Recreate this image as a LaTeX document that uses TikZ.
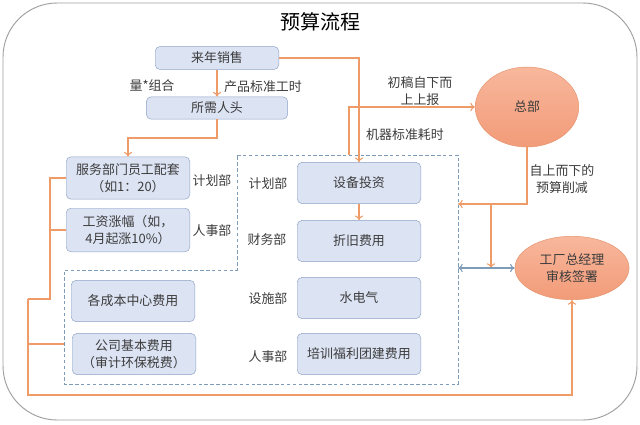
\documentclass[tikz,border=0pt]{standalone}
\usepackage{fontspec}
\setmainfont{Noto Sans CJK SC}
\usetikzlibrary{shapes.geometric,arrows.meta}

\definecolor{boxfill}{HTML}{DCE3F3}
\definecolor{boxline}{HTML}{8FA2C6}
\definecolor{flow}{HTML}{EE9B68}
\definecolor{frameblue}{HTML}{7E9CB8}
\definecolor{ovaltop}{HTML}{F8B79C}
\definecolor{ovalbot}{HTML}{F29B78}
\definecolor{ovalline}{HTML}{E4946E}
\definecolor{txt}{HTML}{3C3C3C}

\tikzset{
  box/.style={draw=boxline, fill=boxfill, rounded corners=4pt, minimum width=105pt, minimum height=35pt, align=center, text=txt, font=\fontsize{11}{14}\selectfont},
  oval/.style={ellipse, draw=ovalline, top color=ovaltop, bottom color=ovalbot, align=center, text=txt, font=\fontsize{11}{14}\selectfont},
  lbl/.style={text=txt, align=center, font=\fontsize{11}{14}\selectfont},
  link/.style={draw=flow, line width=0.9pt},
}

\begin{document}
\begin{tikzpicture}[x=0.85pt, y=-0.85pt, >={To[length=4pt,width=7pt]}]
    \useasboundingbox (0,0) rectangle (640,424);
    \draw[gray!75, line width=0.8pt, rounded corners=46pt] (3,3) rectangle (637,420);
    \node[text=black, font=\fontsize{17}{20}\selectfont] (title) at (320,22) {预算流程};

    % top of the flow
    \node[box, minimum height=19.5pt] (sales) at (217,58) {来年销售};
    \node[box, minimum width=120pt, minimum height=19pt] (staff) at (217,108) {所需人头};
    \node[lbl] (mix) at (152,86) {量*组合};
    \node[lbl] (hours) at (263,87) {产品标准工时};

    % left column
    \node[box, minimum height=36pt] (svc) at (128,178) {服务部门员工配套\\（如1：20）};
    \node[box, minimum height=37pt] (wage) at (128,230) {工资涨幅（如，\\4月起涨10\%）};
    \node[lbl] (plan1) at (212,181) {计划部};
    \node[lbl] (hr1) at (212,231) {人事部};
    \node[box] (cost) at (133,301) {各成本中心费用};
    \node[box] (base) at (134,354) {公司基本费用\\（审计环保税费）};

    % right column
    \node[box] (equip) at (359,183) {设备投资};
    \node[box] (depr) at (359,241) {折旧费用};
    \node[box] (util) at (359,298) {水电气};
    \node[box] (train) at (359,354) {培训福利团建费用};
    \node[lbl] (plan2) at (268,184) {计划部};
    \node[lbl] (fin) at (267,240) {财务部};
    \node[lbl] (fac) at (268,299) {设施部};
    \node[lbl] (hr2) at (268,357) {人事部};

    % head office and plant manager
    \node[oval, minimum width=88pt, minimum height=68pt] (hq) at (527,107) {总部};
    \node[oval, minimum width=97pt, minimum height=54pt] (gm) at (572,268) {工厂总经理\\审核签署};
    \node[lbl] (mach) at (405,135) {机器标准耗时};
    \node[lbl] (draft) at (420,91) {初稿自下而\\上上报};
    \node[lbl] (cut) at (562,179) {自上而下的\\预算削减};

    % dashed group
    \draw[frameblue, dash pattern=on 3pt off 2pt, line width=0.8pt] (237,155) -- (458,155) -- (458,384) -- (64,384) -- (64,270) -- (237,270) -- cycle;
    \coordinate (up) at (349,155);
    \coordinate (rin) at (458,204);
    \coordinate (rmid) at (458,268);
    \coordinate (drop) at (491,204);
    \coordinate (lowin) at (64,344);
    \coordinate (c1) at (50,299);
    \coordinate (c2) at (28,299);
    \coordinate (c3) at (gm.south |- 0,395);

    \draw[link, ->] (sales) -- (staff);
    \draw[link, ->] (staff.south) -- (staff.south |- 0,138) -| (svc.north);
    \draw[link, ->] (sales.east) -| (equip.north);
    \draw[link, ->] (equip) -- (depr);
    \draw[link, ->] (up) |- (hq.west);
    \draw[link, ->] (hq.south) |- (rin);
    \draw[link, ->] (drop) -- (drop |- rmid);
    \draw[frameblue, line width=0.9pt, <->] (rmid) -- (gm.west);
    \draw[link] (svc.west) -| (c1) -- (c2);
    \draw[link] (wage.west) -- (wage.west -| c1);
    \draw[link] (lowin) -- (lowin -| c2);
    \draw[link, ->] (c2) |- (c3) -- (gm.south);
\end{tikzpicture}
\end{document}
